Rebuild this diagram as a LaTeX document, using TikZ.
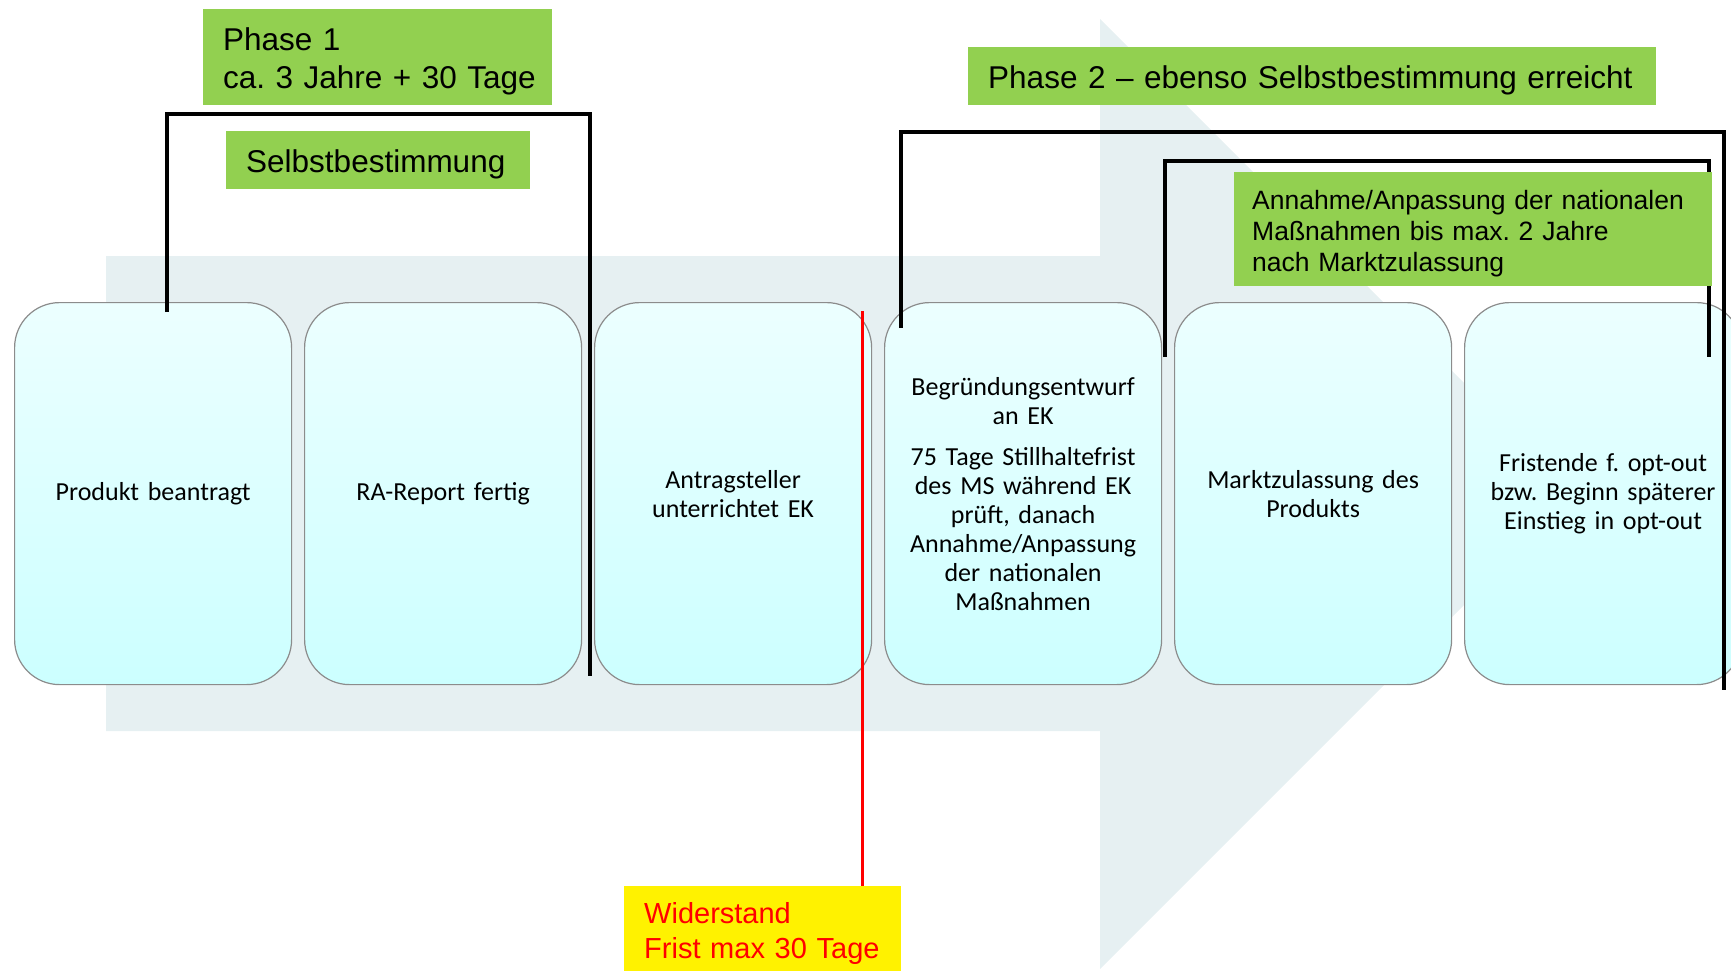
\documentclass[tikz,border=0pt]{standalone}
\usepackage{fontspec}
\setmainfont{Carlito}
\newfontfamily\arialf{Liberation Sans}
\definecolor{arrowbg}{RGB}{230,240,242}
\definecolor{lgreen}{RGB}{146,208,80}
\definecolor{boxtop}{RGB}{236,255,255}
\definecolor{boxbot}{RGB}{204,255,255}
\definecolor{boxline}{RGB}{140,140,140}
\newcommand\topln[1]{\raisebox{0pt}[\dimexpr\height+9pt\relax]{#1}}
\begin{document}
\frenchspacing
\begin{tikzpicture}[x=1pt,y=-1pt,
 stepbox/.style={draw=boxline, line width=1.2pt, rounded corners=45pt, top color=boxtop, bottom color=boxbot, minimum width=277pt, minimum height=382pt, anchor=north west, text width=270pt, align=center, inner sep=0pt, font=\fontsize{26}{29}\selectfont},
 greenbox/.style={fill=lgreen, anchor=north west, align=left, inner ysep=0pt, font=\arialf\fontsize{31.5}{38}\selectfont},
 bracket/.style={line width=4.5pt, line join=miter},
]
\useasboundingbox (0,0) rectangle (1731,971);
% background arrow
\fill[arrowbg] (106,256) -- (1100,256) -- (1100,19) -- (1575,494) -- (1100,969) -- (1100,731) -- (106,731) -- cycle;
% step boxes
\node[stepbox] (b1) at (14,302) {Produkt beantragt};
\node[stepbox] (b2) at (304,302) {RA-Report fertig};
\node[stepbox] (b3) at (594,302) {Antragsteller\\unterrichtet EK};
\node[stepbox] (b4) at (884,302) {Begründungsentwurf\\an EK\\[12pt]75 Tage Stillhaltefrist\\des MS während EK\\prüft, danach\\Annahme/Anpassung\\der nationalen\\Maßnahmen};
\node[stepbox] (b5) at (1174,302) {Marktzulassung des\\Produkts};
\node[stepbox] (b6) at (1464,302) {Fristende f. opt-out\\bzw. Beginn späterer\\Einstieg in opt-out};
% brackets
\draw[bracket] (167,312) -- (167,114) -- (590,114) -- (590,676);
\draw[bracket] (901,328) -- (901,132) -- (1724,132) -- (1724,690);
\draw[bracket] (1165,357) -- (1165,161) -- (1709,161) -- (1709,357);
% labels
\node[greenbox, minimum height=96pt, text width=309pt, inner xsep=20pt] (p1) at (203,9) {\topln{Phase 1}\\\mbox{ca. 3 Jahre + 30 Tage}};
\node[greenbox, minimum height=58pt, text width=264pt, inner xsep=20pt] (sb) at (226,131) {\topln{Selbstbestimmung}};
\node[greenbox, minimum height=58pt, text width=648pt, inner xsep=20pt] (p2) at (968,47) {\topln{Phase 2 – ebenso Selbstbestimmung erreicht}};
\node[greenbox, minimum height=114pt, text width=442pt, inner xsep=18pt, font=\arialf\fontsize{26.5}{31}\selectfont] (an) at (1234,172) {\topln{Annahme/Anpassung der nationalen}\\\mbox{Maßnahmen bis max. 2 Jahre}\\\mbox{nach Marktzulassung}};
\node[greenbox, fill=yellow, text width=237pt, inner xsep=20pt, minimum height=86pt, text=red, font=\arialf\fontsize{29}{35}\selectfont] (yb) at (624,886) {\topln{Widerstand}\\\mbox{Frist max 30 Tage}};
% red marker line
\coordinate (rt) at (862,311);
\draw[red, line width=3pt] (rt) -- (rt |- yb.north);
\end{tikzpicture}
\end{document}
